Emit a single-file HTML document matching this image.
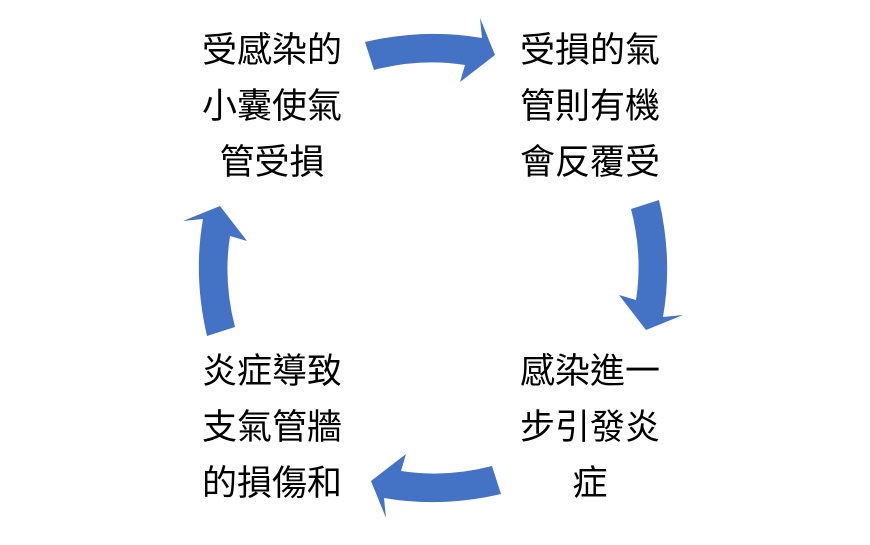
<!DOCTYPE html>
<html><head><meta charset="utf-8"><style>
body{margin:0;width:870px;height:545px;background:#fff;overflow:hidden;position:relative;font-family:"Liberation Sans","Noto Sans CJK TC",sans-serif}
.t{position:absolute;width:180px;text-align:center;font-size:35px;line-height:56px;color:#000}
svg{position:absolute;left:0;top:0}
</style></head><body>
<svg width="870" height="545">
<defs><path id="a" d="M365,42 Q425,28 482,38 L480,18 L495,55 L460,82 L465,65 Q420,58 374,70 Z" fill="#4472C4"/></defs>
<use href="#a"/>
<use href="#a" transform="rotate(90 433 268)"/>
<use href="#a" transform="rotate(180 433 268)"/>
<use href="#a" transform="rotate(270 433 268)"/>
</svg>
<div class="t" style="left:182px;top:23px">受感染的<br>小囊使氣<br>管受損</div>
<div class="t" style="left:500px;top:23px">受損的氣<br>管則有機<br>會反覆受</div>
<div class="t" style="left:500px;top:344px">感染進一<br>步引發炎<br>症</div>
<div class="t" style="left:182px;top:344px">炎症導致<br>支氣管牆<br>的損傷和</div>
</body></html>
